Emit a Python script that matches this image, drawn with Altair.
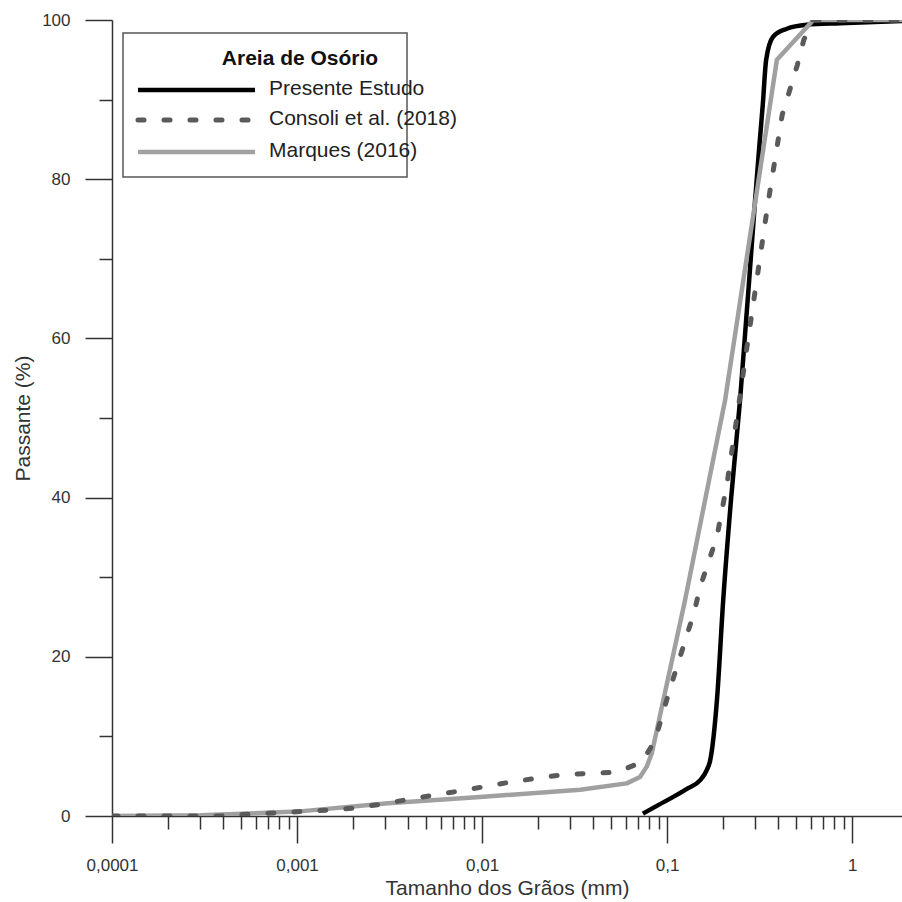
import altair as alt
import pandas as pd

# ---------------- data ----------------
series_names = ["Presente Estudo", "Consoli et al. (2018)", "Marques (2016)"]
legend_title = "Areia de Osório"

presente_x = [0.074, 0.09, 0.108, 0.13, 0.151, 0.164, 0.171, 0.186, 0.201, 0.222, 0.248,
              0.299, 0.314, 0.329, 0.343, 0.374, 0.444, 0.569, 0.861, 2.0]
presente_y = [0.3, 1.4, 2.4, 3.5, 4.5, 5.8, 7.0, 14.6, 27.1, 40.0, 52.3,
              77.4, 83.7, 89.4, 95.0, 97.9, 98.9, 99.4, 99.6, 99.9]

consoli_x = [0.0001, 0.000384, 0.000557, 0.000777, 0.00151, 0.00206, 0.00287, 0.0054, 0.0074,
             0.0145, 0.0274, 0.0537, 0.0733, 0.086, 0.104, 0.140, 0.151, 0.186, 0.211, 0.243,
             0.270, 0.339, 0.36, 0.419, 0.505, 0.548, 0.615, 2.0]
consoli_y = [0.0, 0.0, 0.25, 0.4, 0.75, 1.0, 1.5, 2.6, 3.1,
             4.3, 5.2, 5.5, 6.8, 9.5, 16.1, 25.6, 28.8, 35.1, 41.8, 51.4,
             58.9, 74.6, 78.6, 88.1, 94.3, 97.5, 100.0, 100.0]

marques_x = [0.0001, 0.0003, 0.001, 0.0031, 0.00975, 0.0339, 0.0605, 0.0714, 0.0776, 0.0827,
             0.125, 0.206, 0.392, 0.618, 2.0]
marques_y = [0.0, 0.1, 0.55, 1.6, 2.4, 3.3, 4.1, 4.9, 6.2, 7.9,
             27.1, 52.3, 95.0, 100.0, 100.0]

x_decades = [0.0001, 0.001, 0.01, 0.1, 1.0]
x_minor_mult = [2, 3, 4, 5, 6, 7, 8, 9]
y_tick_values = [0, 10, 20, 30, 40, 50, 60, 70, 80, 90, 100]

x_tick_values = []
for d in x_decades:
    x_tick_values.append(d)
    if d < 1:
        for k in x_minor_mult:
            x_tick_values.append(round(k * d, 10))

# ---------------- style ----------------
FONT = "Liberation Sans"
AXC = "#333333"
colors = ["#000000", "#5a5a5a", "#a0a0a0"]

W, H = 790, 796

df_p = pd.DataFrame({"x": presente_x, "y": presente_y})
df_c = pd.DataFrame({"x": consoli_x, "y": consoli_y})
df_m = pd.DataFrame({"x": marques_x, "y": marques_y})

major_x = "abs(log(datum.value)/LN10 - round(log(datum.value)/LN10)) < 0.000001"

x_axis = alt.Axis(
    values=x_tick_values,
    tickSize={"condition": {"test": major_x, "value": 27}, "value": 13},
    labelExpr=f"({major_x}) ? replace(toString(datum.value), '.', ',') : ''",
    title="Tamanho dos Grãos (mm)",
    grid=False,
    domainColor=AXC, tickColor=AXC, domainWidth=1.5, tickWidth=1.5,
    labelFont=FONT, labelFontSize=17, labelColor=AXC,
    labelPadding=14, labelOverlap=False, labelFlush=False,
    titleFont=FONT, titleFontSize=21, titleFontWeight="normal", titleColor=AXC,
    titlePadding=4,
)
y_axis = alt.Axis(
    values=y_tick_values,
    tickSize={"condition": {"test": "datum.value % 20 === 0", "value": 27}, "value": 13},
    labelExpr="datum.value % 20 === 0 ? datum.label : ''",
    format="d",
    title="Passante (%)",
    grid=False,
    domainColor=AXC, tickColor=AXC, domainWidth=1.5, tickWidth=1.5,
    labelFont=FONT, labelFontSize=17, labelColor=AXC,
    labelPadding=15, labelOverlap=False, labelFlush=False,
    titleFont=FONT, titleFontSize=21, titleFontWeight="normal", titleColor=AXC,
    titlePadding=8,
)

xs = alt.Scale(type="log", domain=[0.0001, 1.86], nice=False)
ys = alt.Scale(domain=[0, 100], nice=False)

black = alt.Chart(df_p).mark_line(
    color=colors[0], strokeWidth=4.5, interpolate="monotone", clip=True
).encode(x=alt.X("x:Q", scale=xs, axis=x_axis), y=alt.Y("y:Q", scale=ys, axis=y_axis), order="x:Q")

gray = alt.Chart(df_m).mark_line(
    color=colors[2], strokeWidth=4.5, clip=True, strokeJoin="round"
).encode(x=alt.X("x:Q", scale=xs), y=alt.Y("y:Q", scale=ys), order="x:Q")

dashed = alt.Chart(df_c).mark_line(
    color=colors[1], strokeWidth=5, strokeDash=[6, 20], strokeCap="round", clip=True
).encode(x=alt.X("x:Q", scale=xs), y=alt.Y("y:Q", scale=ys), order="x:Q")

# ---------------- legend (drawn manually) ----------------
one = alt.Data(values=[{"a": 1}])
legend_box = alt.Chart(one).mark_rect(
    fill="white", stroke="#555555", strokeWidth=1.5
).encode(x=alt.value(11), x2=alt.value(295), y=alt.value(13), y2=alt.value(157))

legend_head = alt.Chart(pd.DataFrame({"t": [legend_title]})).mark_text(
    font=FONT, fontSize=21, fontWeight="bold", color="#111111", align="center", baseline="middle"
).encode(text="t:N", x=alt.value(188), y=alt.value(39))

row_y = [70, 100, 132]
dash_styles = [None, [6, 20], None]
widths = [4.5, 5, 4.5]
legend_layers = []
for i, name in enumerate(series_names):
    kw = dict(color=colors[i], strokeWidth=widths[i])
    if dash_styles[i] is not None:
        kw["strokeDash"] = dash_styles[i]
        kw["strokeCap"] = "round"
    legend_layers.append(
        alt.Chart(one).mark_rule(**kw).encode(
            x=alt.value(26), x2=alt.value(143), y=alt.value(row_y[i]), y2=alt.value(row_y[i])
        )
    )
    legend_layers.append(
        alt.Chart(pd.DataFrame({"t": [name]})).mark_text(
            font=FONT, fontSize=21, color="#222222", align="left", baseline="middle"
        ).encode(text="t:N", x=alt.value(157), y=alt.value(row_y[i] - 1))
    )

chart = alt.layer(
    black, gray, dashed, legend_box, legend_head, *legend_layers
).properties(
    width=W, height=H,
    autosize=alt.AutoSizeParams(type="none"),
    padding={"left": 112, "top": 20, "right": 0, "bottom": 86},
    background="white",
).configure_view(stroke=None)

chart.save("out.html", embed_options={"renderer": "svg", "actions": False})
